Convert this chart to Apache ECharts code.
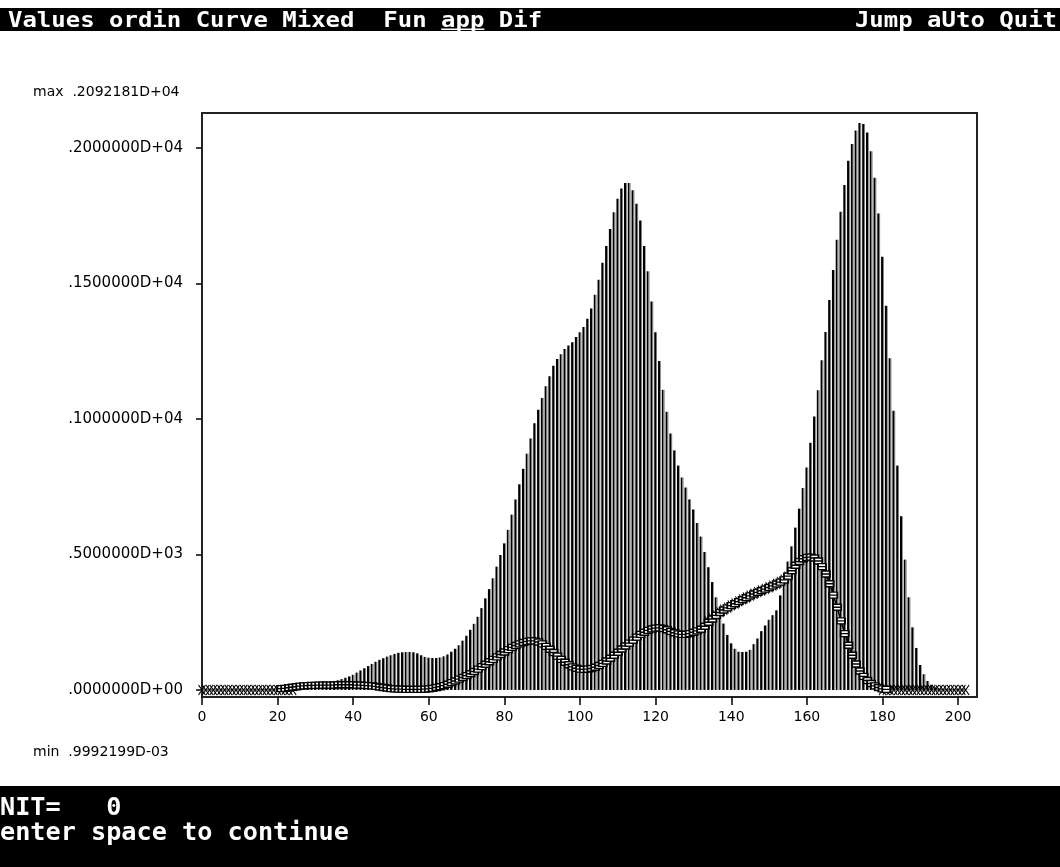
<!DOCTYPE html>
<html><head><meta charset="utf-8">
<script src="https://cdn.jsdelivr.net/npm/echarts@6/dist/echarts.min.js"></script>
<style>html,body{margin:0;padding:0;background:#fff}#c{width:1060px;height:867px}</style>
</head><body><div id="c"></div>
<script>
// ---- data ----
const X_START = 0;
const observed = [
  0.0009992199, 0.003, 0.006, 0.01, 0.02, 0.03, 0.05, 0.08, 0.12, 0.18,
  0.27, 0.4, 0.6, 0.8, 1.1, 1.5, 2.0, 2.6, 3.3, 4.1,
  5.0, 6.0, 7.2, 8.5, 10, 13, 16, 19, 22, 24,
  26, 27, 28, 29, 31, 33, 36, 40, 45, 50,
  56, 64, 72, 80, 88, 96, 104, 111, 117, 123,
  128, 133, 137, 139, 140, 140, 139, 135, 128, 122,
  119, 118, 118, 120, 124, 131, 141, 152, 165, 182,
  200, 222, 244, 270, 302, 338, 372, 412, 455, 498,
  541, 591, 647, 703, 759, 816, 872, 928, 984, 1034,
  1077, 1121, 1158, 1196, 1221, 1239, 1258, 1271, 1283, 1302,
  1320, 1339, 1370, 1408, 1458, 1514, 1576, 1638, 1701, 1763,
  1813, 1850, 1871, 1871, 1844, 1794, 1732, 1638, 1545, 1433,
  1320, 1214, 1108, 1027, 946, 884, 828, 784, 747, 703,
  666, 616, 566, 509, 453, 398, 342, 294, 245, 203,
  172, 152, 141, 140, 141, 148, 169, 190, 217, 238,
  259, 276, 294, 349, 419, 474, 530, 599, 669, 745,
  821, 912, 1009, 1106, 1217, 1321, 1439, 1550, 1661, 1765,
  1863, 1953, 2015, 2064, 2092.181, 2088, 2057, 1988, 1890, 1758,
  1599, 1418, 1224, 1030, 828, 641, 481, 342, 231, 155,
  92, 58, 33, 19, 10, 6, 4, 3, 2, 1.5,
  1.2, 1, 0.8, 0.6
];
const FIT_START = 21;
const fitted = [
  5, 6, 8, 10, 12, 14, 15, 16, 17,
  17, 18, 18, 18, 18, 18, 19, 19, 19, 19,
  19, 18, 18, 17, 16, 15, 13, 11, 9, 7,
  5, 4, 3, 3, 2, 2, 2, 2, 2, 3,
  4, 6, 9, 12, 16, 21, 27, 33, 40, 46,
  53, 60, 68, 77, 86, 95, 104, 113, 122, 131,
  140, 149, 157, 164, 170, 175, 179, 181, 181, 177,
  170, 161, 150, 138, 125, 113, 102, 93, 85, 80,
  77, 76, 77, 79, 84, 90, 98, 107, 117, 128,
  139, 151, 162, 173, 184, 195, 205, 213, 220, 225,
  228, 229, 227, 222, 216, 211, 207, 205, 205, 208,
  213, 218, 224, 235, 250, 262, 275, 286, 295, 303,
  311, 318, 326, 333, 340, 347, 354, 360, 366, 372,
  378, 384, 391, 398, 406, 420, 440, 460, 474, 484,
  489, 490, 487, 476, 455, 428, 392, 350, 305, 255,
  208, 165, 128, 96, 70, 50, 35, 24, 15, 9,
  4, 2
];
const MARK_LEFT_START = 0;
const markLeft = [0,0,0,0,0,0,0,0,0,0,0,0,0,0,0,0,0,0,0,0,0,0,0,0,0];
const MARK_MID_START = 134;
const markMid = [252, 264, 276, 287, 296, 304, 312, 319, 327, 334, 341, 348, 355, 361, 367, 373, 379, 385, 392, 399, 407, 418];
const MARK_RIGHT_START = 180;
const markRight = [0,0,0,0,0,0,0,0,0,0,0,0,0,0,0,0,0,0,0,0,0,0,0];
const xTicks = [0, 20, 40, 60, 80, 100, 120, 140, 160, 180, 200];
const yTicks = [0, 500, 1000, 1500, 2000];
const menuLeft = 'Values ordin Curve Mixed  Fun app Dif';
const menuRight = 'Jump aUto Quit';
const statusLine1 = 'NIT=   0';
const statusLine2 = 'enter space to continue';

// Fortran D-format
function fmtD(v) {
  if (v === 0) return '.0000000D+00';
  const s = v < 0 ? '-' : '';
  const a = Math.abs(v);
  let e = Math.floor(Math.log10(a)) + 1;
  let d = Math.round(a / Math.pow(10, e) * 1e7);
  if (d >= 1e7) { d = Math.round(d / 10); e += 1; }
  const ds = String(d).padStart(7, '0');
  const es = String(Math.abs(e)).padStart(2, '0');
  return s + '.' + ds + 'D' + (e >= 0 ? '+' : '-') + es;
}
const toXY = (arr, start) => arr.map((v, i) => [start + i, v]);
const vmax = Math.max(...observed), vmin = Math.min(...observed);

const chart = echarts.init(document.getElementById('c'), null, {renderer: 'canvas'});
const LBL = {fontFamily: 'DejaVu Sans', fontSize: 14, color: '#000'};
const MONO = '"DejaVu Sans Mono"';
const cw22 = 22 * 0.602 * 1.09;
const xMarkStyle = {
  type: 'line', symbol: 'path://M0,0L10,10M10,0L0,10', symbolSize: [7, 10], showAllSymbol: true,
  itemStyle: {color: 'rgba(0,0,0,0)', borderColor: '#000', borderWidth: 1},
  lineStyle: {color: '#000', width: 1}, z: 3, silent: true, animation: false
};
chart.setOption({
  animation: false,
  backgroundColor: '#fff',
  grid: {left: 202, top: 113, width: 775, height: 584, show: true, borderColor: '#222', borderWidth: 2, backgroundColor: 'transparent'},
  xAxis: {
    type: 'value', min: 0, max: 205,
    axisLine: {onZero: false, lineStyle: {color: '#222', width: 2}},
    axisTick: {show: true, length: 8, customValues: xTicks, lineStyle: {color: '#000', width: 1.5}},
    axisLabel: Object.assign({customValues: xTicks, margin: 13}, LBL),
    splitLine: {show: false}
  },
  yAxis: {
    type: 'value', min: -26, max: 2129,
    axisLine: {show: true, lineStyle: {color: '#222', width: 2}},
    axisTick: {show: true, length: 6, customValues: yTicks, lineStyle: {color: '#000', width: 1.5}},
    axisLabel: Object.assign({customValues: yTicks, margin: 19, formatter: fmtD}, LBL, {fontSize: 15}),
    splitLine: {show: false}
  },
  series: [
    {
      type: 'bar', data: toXY(observed, X_START), barWidth: 2.8, silent: true, z: 2,
      itemStyle: {color: new echarts.graphic.LinearGradient(0, 0, 1, 0, [
        {offset: 0, color: '#000'}, {offset: 0.58, color: '#000'},
        {offset: 0.6, color: '#7a7a7a'}, {offset: 1, color: '#7a7a7a'}])}
    },
    Object.assign({data: toXY(markLeft, MARK_LEFT_START)}, xMarkStyle),
    Object.assign({data: toXY(markMid, MARK_MID_START)}, xMarkStyle),
    Object.assign({data: toXY(markRight, MARK_RIGHT_START)}, xMarkStyle),
    {
      type: 'line', data: toXY(fitted, FIT_START), showAllSymbol: true,
      symbol: 'path://M0,0H10V6H0ZM0,3H10', symbolSize: [8, 6],
      itemStyle: {color: '#fff', borderColor: '#000', borderWidth: 1.6},
      lineStyle: {color: '#000', width: 1.5}, z: 4, silent: true
    }
  ],
  graphic: [
    {type: 'rect', shape: {x: 0, y: 8, width: 1060, height: 23}, style: {fill: '#000'}, silent: true},
    {type: 'text', x: 8, y: 10, scaleX: 1.09, style: {text: menuLeft, fill: '#fff', font: 'bold 22px ' + MONO, verticalAlign: 'top'}},
    {type: 'rect', shape: {x: 8 + 30 * cw22, y: 28.5, width: 3 * cw22, height: 1.5}, style: {fill: '#fff'}},
    {type: 'text', x: 1057, y: 10, scaleX: 1.09, style: {text: menuRight, fill: '#fff', font: 'bold 22px ' + MONO, align: 'right', verticalAlign: 'top'}},
    {type: 'text', x: 33, y: 92, style: {text: 'max  ' + fmtD(vmax), fill: '#000', font: '14px "DejaVu Sans"', verticalAlign: 'middle'}},
    {type: 'text', x: 33, y: 752, style: {text: 'min  ' + fmtD(vmin), fill: '#000', font: '14px "DejaVu Sans"', verticalAlign: 'middle'}},
    {type: 'rect', shape: {x: 0, y: 786, width: 1060, height: 81}, style: {fill: '#000'}, silent: true},
    {type: 'text', x: 0, y: 797, scaleX: 1.05, style: {text: statusLine1, fill: '#fff', font: 'bold 24px ' + MONO, verticalAlign: 'top'}},
    {type: 'text', x: 0, y: 822, scaleX: 1.05, style: {text: statusLine2, fill: '#fff', font: 'bold 24px ' + MONO, verticalAlign: 'top'}}
  ]
});
</script></body></html>
